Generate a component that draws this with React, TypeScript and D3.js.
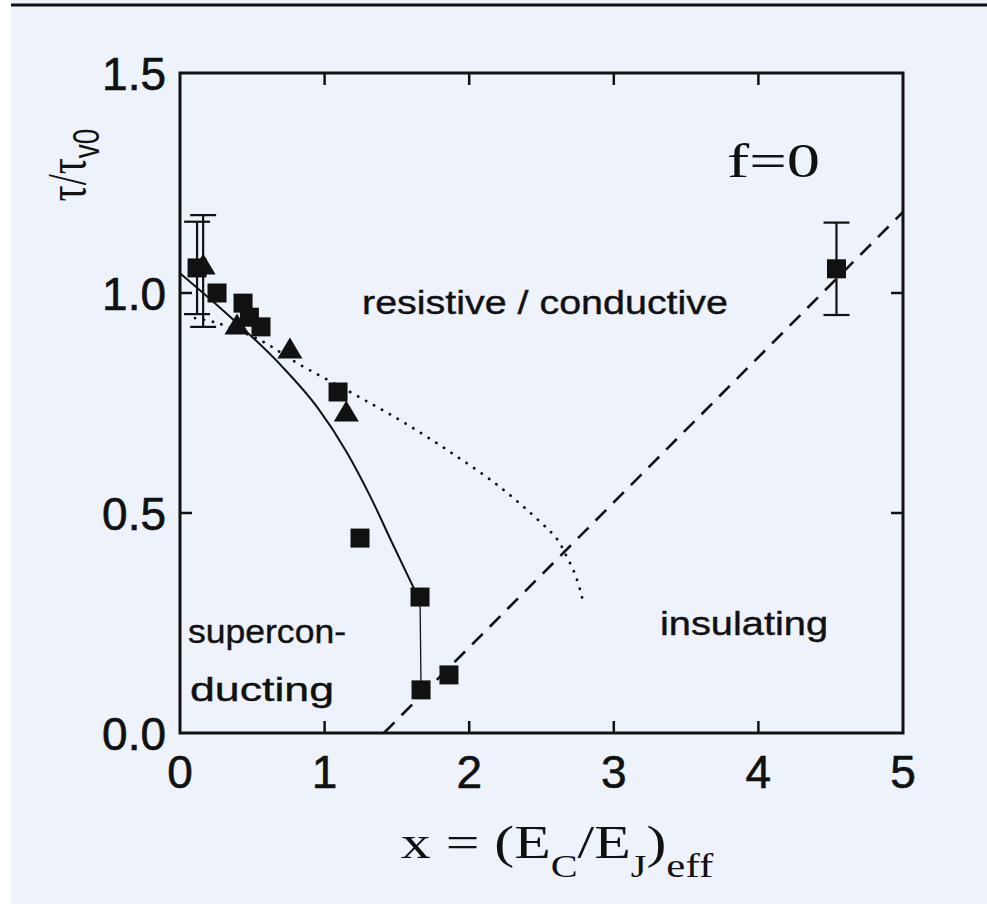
import React from 'react';
import * as d3 from 'd3';

// values (x = (E_C/E_J)_eff, y = tau / tau_v0)
const xTicks = [0, 1, 2, 3, 4, 5];
const yTicks = [0, 0.5, 1.0, 1.5];
const yTickLabels = ['0.0', '0.5', '1.0', '1.5'];

const squares: [number, number][] = [
  [0.118, 1.057],
  [0.256, 1.0],
  [0.436, 0.977],
  [0.48, 0.945],
  [0.56, 0.923],
  [1.093, 0.775],
  [1.245, 0.443],
  [1.66, 0.309],
  [1.667, 0.098],
  [1.86, 0.132],
  [4.54, 1.055],
];

const triangles: [number, number][] = [
  [0.16, 1.061],
  [0.394, 0.925],
  [0.76, 0.87],
  [1.15, 0.727],
];

// error bars: [x, y, half-height]
const errorBars: [number, number, number][] = [
  [0.118, 1.057, 0.105],
  [0.16, 1.05, 0.127],
  [4.54, 1.055, 0.105],
];

const solidCurve: [number, number][] = [
  [0, 1.045],
  [0.35, 0.945],
  [0.7, 0.835],
  [0.95, 0.74],
  [1.15, 0.64],
  [1.32, 0.535],
  [1.47, 0.43],
  [1.645, 0.31],
];

const verticalJump: [number, number][] = [
  [1.66, 0.309],
  [1.667, 0.098],
];

const dottedCurve: [number, number][] = [
  [0.104, 0.943],
  [0.256, 0.932],
  [0.553, 0.893],
  [0.809, 0.841],
  [1.176, 0.775],
  [1.521, 0.711],
  [1.867, 0.639],
  [2.213, 0.559],
  [2.49, 0.48],
  [2.607, 0.441],
  [2.676, 0.4],
  [2.732, 0.361],
  [2.773, 0.318],
  [2.787, 0.298],
];

const dashedLine: [number, number][] = [
  [1.41, 0],
  [5, 1.184],
];

const W = 987;
const H = 904;
const margin = { left: 180, right: 84, top: 73, bottom: 171 };

export default function App() {
  const x = d3.scaleLinear().domain([0, 5]).range([margin.left, W - margin.right]);
  const y = d3.scaleLinear().domain([0, 1.5]).range([H - margin.bottom, margin.top]);

  const line = d3
    .line<[number, number]>()
    .x((d) => x(d[0]))
    .y((d) => y(d[1]));
  const smooth = d3
    .line<[number, number]>()
    .x((d) => x(d[0]))
    .y((d) => y(d[1]))
    .curve(d3.curveMonotoneX);
  const dotted = d3
    .line<[number, number]>()
    .x((d) => x(d[0]))
    .y((d) => y(d[1]))
    .curve(d3.curveCatmullRom);

  const x0 = x(0);
  const x1 = x(5);
  const y0 = y(0);
  const y1 = y(1.5);
  const tickLen = 12;
  const sq = 19;
  const triW = 25;
  const triH = 21;
  const ink = '#111';
  const serif = "'Liberation Serif', 'Times New Roman', serif";
  const sans = "'Liberation Sans', Arial, sans-serif";

  return (
    <svg
      width={W}
      height={H}
      style={{ position: 'absolute', left: 0, top: 0, display: 'block' }}
    >
      <rect x={0} y={0} width={W} height={H} fill="#ffffff" />
      <rect x={11} y={0} width={W - 11} height={H} fill="#eef2fb" />
      <line x1={11} x2={W} y1={5} y2={5} stroke="#111" strokeWidth={3} />

      {/* frame */}
      <rect
        x={x0}
        y={y1}
        width={x1 - x0}
        height={y0 - y1}
        fill="none"
        stroke={ink}
        strokeWidth={3}
      />

      {/* ticks */}
      {xTicks.slice(1, -1).map((t) => (
        <g key={'xt' + t}>
          <line x1={x(t)} x2={x(t)} y1={y0} y2={y0 - tickLen} stroke={ink} strokeWidth={2.5} />
          <line x1={x(t)} x2={x(t)} y1={y1} y2={y1 + tickLen} stroke={ink} strokeWidth={2.5} />
        </g>
      ))}
      {yTicks.slice(1, -1).map((t) => (
        <g key={'yt' + t}>
          <line x1={x0} x2={x0 + tickLen} y1={y(t)} y2={y(t)} stroke={ink} strokeWidth={2.5} />
          <line x1={x1} x2={x1 - tickLen} y1={y(t)} y2={y(t)} stroke={ink} strokeWidth={2.5} />
        </g>
      ))}

      {/* tick labels */}
      <g fontFamily={sans} fontSize={46} fill={ink} stroke={ink} strokeWidth={0.6}>
        {xTicks.map((t) => (
          <text key={'xl' + t} x={x(t)} y={y0 + 55} textAnchor="middle">
            {t}
          </text>
        ))}
        {yTicks.map((t, i) => (
          <text key={'yl' + t} x={x0 - 14} y={y(t) + 17} textAnchor="end">
            {yTickLabels[i]}
          </text>
        ))}
      </g>

      {/* axis titles */}
      <g transform="translate(557,858) scale(1.3,1)">
        <text textAnchor="middle" fontFamily={serif} fontSize={46} fill={ink}>
          x = (E
          <tspan fontSize={31} dy={19}>C</tspan>
          <tspan dy={-19}>/E</tspan>
          <tspan fontSize={31} dy={19}>J</tspan>
          <tspan dy={-19}>)</tspan>
          <tspan fontSize={33} dy={19}>eff</tspan>
        </text>
      </g>
      <g transform="translate(85,165) scale(1.35,1) rotate(-90)">
        <text textAnchor="middle" fontFamily={serif} fontSize={40} fill={ink}>
          τ/τ
          <tspan fontSize={28} dy={10} fontFamily={sans}>v0</tspan>
        </text>
      </g>

      {/* annotations */}
      <text
        x={727}
        y={177}
        fontFamily={serif}
        fontSize={48}
        fill={ink}
        textLength={93}
        lengthAdjust="spacingAndGlyphs"
      >
        f=0
      </text>
      <g fontFamily={sans} fontSize={34} fill={ink} stroke={ink} strokeWidth={0.4}>
        <text x={362} y={314} textLength={366} lengthAdjust="spacingAndGlyphs">
          resistive / conductive
        </text>
        <text x={188} y={643} textLength={158} lengthAdjust="spacingAndGlyphs">
          supercon-
        </text>
        <text x={190} y={701} textLength={144} lengthAdjust="spacingAndGlyphs">
          ducting
        </text>
        <text x={660} y={635} textLength={168} lengthAdjust="spacingAndGlyphs">
          insulating
        </text>
      </g>

      {/* curves */}
      <path d={smooth(solidCurve) || ''} fill="none" stroke={ink} strokeWidth={2} />
      <path d={line(verticalJump) || ''} fill="none" stroke={ink} strokeWidth={1.3} />
      <path
        d={dotted(dottedCurve) || ''}
        fill="none"
        stroke={ink}
        strokeWidth={2.8}
        strokeDasharray="0.1 9"
        strokeLinecap="round"
      />
      <path
        d={line(dashedLine) || ''}
        fill="none"
        stroke={ink}
        strokeWidth={2.6}
        strokeDasharray="15 10"
      />

      {/* error bars */}
      {errorBars.map(([ex, ey, e], i) => (
        <g key={'eb' + i} stroke={ink} strokeWidth={2.2}>
          <line x1={x(ex)} x2={x(ex)} y1={y(ey - e)} y2={y(ey + e)} />
          <line x1={x(ex) - 13} x2={x(ex) + 13} y1={y(ey + e)} y2={y(ey + e)} />
          <line x1={x(ex) - 13} x2={x(ex) + 13} y1={y(ey - e)} y2={y(ey - e)} />
        </g>
      ))}

      {/* markers */}
      {squares.map(([sx, sy], i) => (
        <rect
          key={'s' + i}
          x={x(sx) - sq / 2}
          y={y(sy) - sq / 2}
          width={sq}
          height={sq}
          fill={ink}
        />
      ))}
      {triangles.map(([tx, ty], i) => (
        <path
          key={'t' + i}
          d={`M${x(tx)},${y(ty) - triH * 0.6} L${x(tx) + triW / 2},${y(ty) + triH * 0.4} L${
            x(tx) - triW / 2
          },${y(ty) + triH * 0.4} Z`}
          fill={ink}
        />
      ))}
    </svg>
  );
}
